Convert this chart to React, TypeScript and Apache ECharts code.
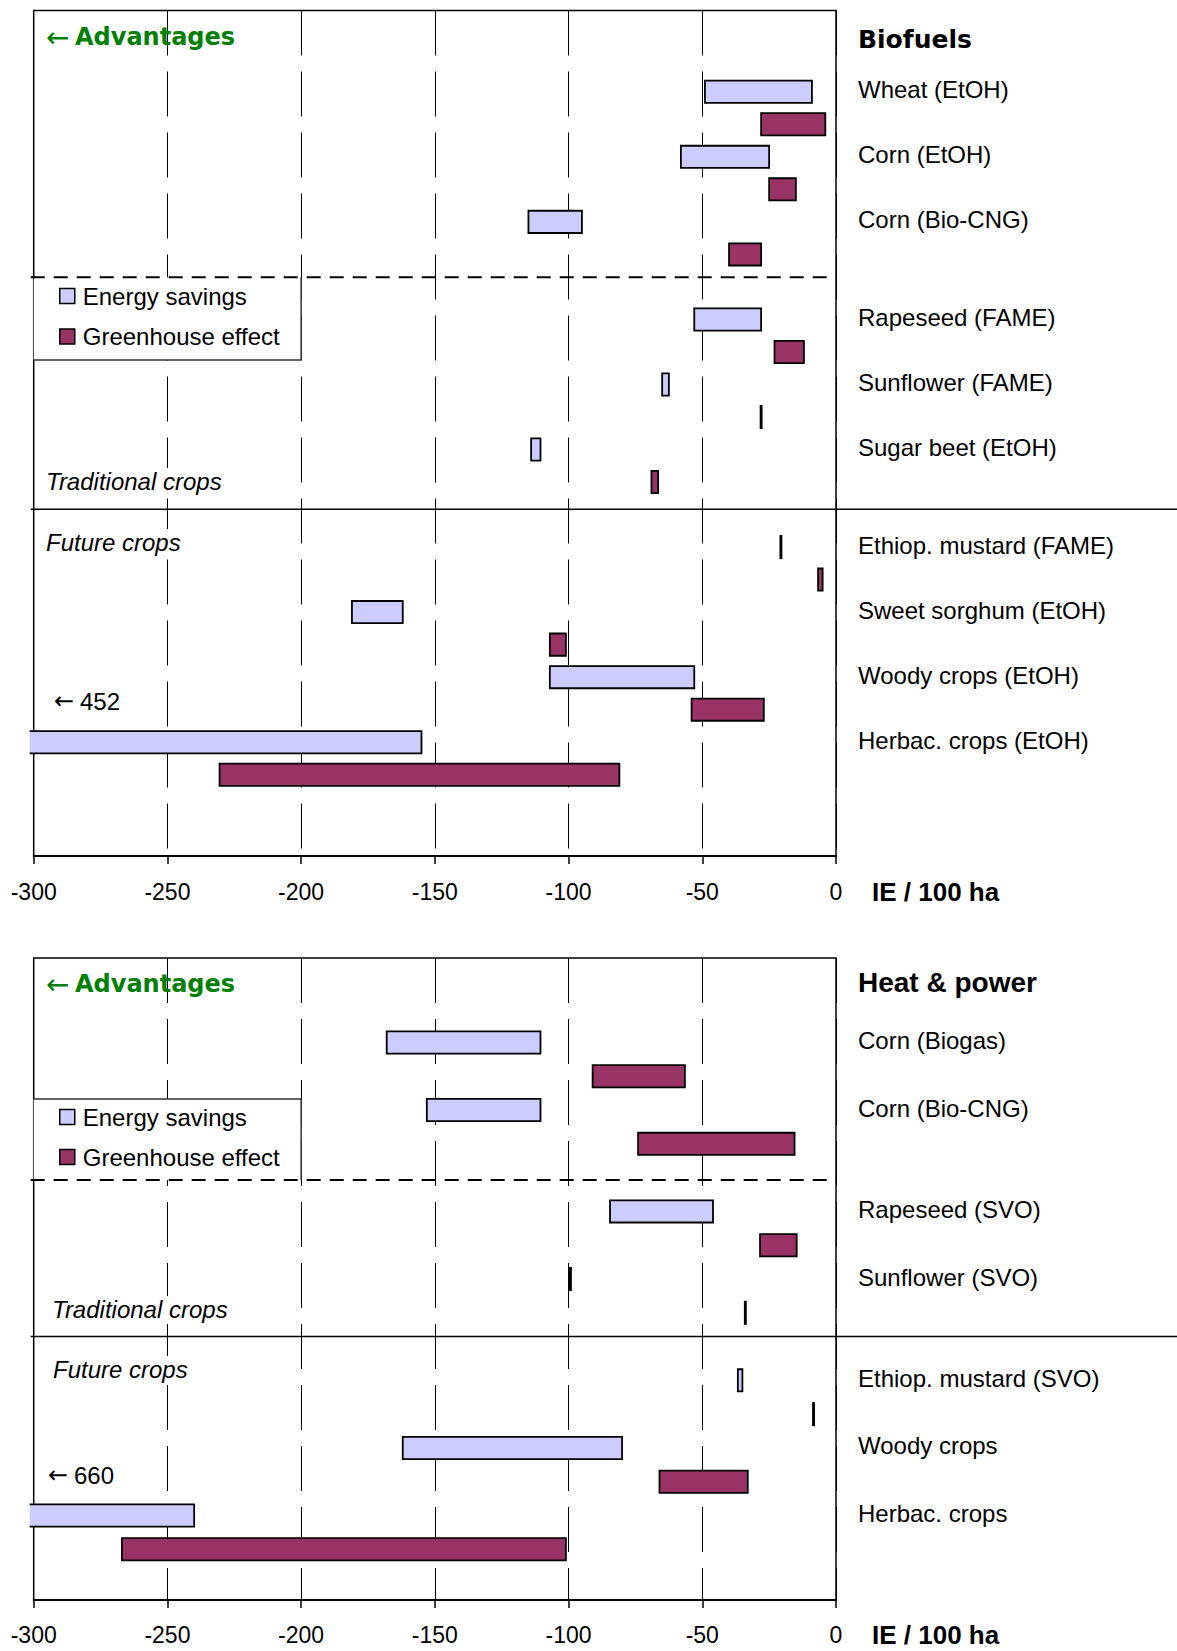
import React, { useEffect, useRef } from 'react';
import * as echarts from 'echarts';

// ---- Biofuels panel -------------------------------------------------------
const biofuelCategories = [
  'Wheat (EtOH)',
  'Corn (EtOH)',
  'Corn (Bio-CNG)',
  'Rapeseed (FAME)',
  'Sunflower (FAME)',
  'Sugar beet (EtOH)',
  'Ethiop. mustard (FAME)',
  'Sweet sorghum (EtOH)',
  'Woody crops (EtOH)',
  'Herbac. crops (EtOH)',
];
// row slot of each crop's energy bar; its greenhouse bar sits in the next slot
const biofuelSlots = [2, 4, 6, 9, 11, 13, 16, 18, 20, 22];
// [from, to] in IE / 100 ha
const biofuelEnergy: [number, number][] = [
  [-49, -9],
  [-58, -25],
  [-115, -95],
  [-53, -28],
  [-65, -62.5],
  [-114, -110.5],
  [-20.8, -20.4],
  [-181, -162],
  [-107, -53],
  [-452, -155],
];
const biofuelGreenhouse: [number, number][] = [
  [-28, -4],
  [-25, -15],
  [-40, -28],
  [-23, -12],
  [-28.2, -27.8],
  [-69, -66.5],
  [-6.7, -5],
  [-107, -101],
  [-54, -27],
  [-230.5, -81],
];

// ---- Heat & power panel ---------------------------------------------------
const heatCategories = [
  'Corn (Biogas)',
  'Corn (Bio-CNG)',
  'Rapeseed (SVO)',
  'Sunflower (SVO)',
  'Ethiop. mustard (SVO)',
  'Woody crops',
  'Herbac. crops',
];
const heatSlots = [2, 4, 7, 9, 12, 14, 16];
const heatEnergy: [number, number][] = [
  [-168, -110.5],
  [-153, -110.5],
  [-84.5, -46],
  [-99.5, -99.1],
  [-36.7, -35],
  [-162, -80],
  [-660, -240],
];
const heatGreenhouse: [number, number][] = [
  [-91, -56.5],
  [-74, -15.5],
  [-28.4, -14.7],
  [-34.1, -33.7],
  [-8.6, -8.2],
  [-66, -33],
  [-267, -101],
];

const seriesNames = ['Energy savings', 'Greenhouse effect'];
const panelTitles = ['Biofuels', 'Heat & power'];
const groupLabels = ['Traditional crops', 'Future crops'];
const axisTitle = 'IE / 100 ha';
const advantageText = 'Advantages';

const X_MIN = -300;
const X_MAX = 0;
const X_STEP = 50;

// ---- styling / layout -----------------------------------------------------
const SANS = '"Liberation Sans", Arial, sans-serif';
const WIDE = '"DejaVu Sans", sans-serif';
const ENERGY_FILL = '#CCCCFF';
const GREENHOUSE_FILL = '#993366';
const ADV_GREEN = '#008000';

const PAGE_W = 1177;
const PAGE_H = 1651;
const PLOT_LEFT = 33.7;
const PLOT_WIDTH = 802.3;

const layouts = [
  {
    top: 10.5,
    height: 845.5,
    slots: 26,
    barRatio: 0.683,
    dashedSlot: 8.2,
    solidSlot: 15.34,
    legendBox: [8.2, 10.75],
    legendBoxEdges: ['right', 'bottom'],
    legendTop: 284,
    legendGap: 16.5,
    titleY: 39,
    titleFont: `bold 25px ${WIDE}`,
    advY: 37,
    tradPos: [46, 481],
    futurePos: [46, 542],
    offscalePos: [54, 701],
    labelMargin: 24,
    namePad: 23,
  },
  {
    top: 958,
    height: 642,
    slots: 19,
    barRatio: 0.657,
    dashedSlot: 6.57,
    solidSlot: 11.2,
    legendBox: [4.17, 6.57],
    legendBoxEdges: ['top', 'right'],
    legendTop: 1105,
    legendGap: 16,
    titleY: 982,
    titleFont: `bold 28px ${SANS}`,
    advY: 984,
    tradPos: [52, 1309],
    futurePos: [53, 1369],
    offscalePos: [48, 1475],
    labelMargin: 23,
    namePad: 22,
  },
];

const panels = [
  {
    categories: biofuelCategories,
    slots: biofuelSlots,
    energy: biofuelEnergy,
    greenhouse: biofuelGreenhouse,
  },
  {
    categories: heatCategories,
    slots: heatSlots,
    energy: heatEnergy,
    greenhouse: heatGreenhouse,
  },
];

const xPix = (v: number) => PLOT_LEFT + ((v - X_MIN) / (X_MAX - X_MIN)) * PLOT_WIDTH;
const yPix = (l: (typeof layouts)[number], slot: number) => l.top + (slot * l.height) / l.slots;

// floating bar from [from, to]; a bar running past the left edge is cut open there
function barRenderer(ratio: number) {
  return (params: any, api: any) => {
    const from = api.value(0) as number;
    const to = api.value(1) as number;
    const y = api.value(2) as number;
    const p0 = api.coord([Math.max(from, X_MIN), y]);
    const p1 = api.coord([to, y]);
    const h = Math.abs(api.size([0, 1])[1]) * ratio;
    const top = p1[1] - h / 2;
    const fill = api.visual('color');
    const stroke = { stroke: '#000', lineWidth: 1.8 };
    if (from >= X_MIN) {
      return {
        type: 'rect',
        shape: { x: p0[0], y: top, width: p1[0] - p0[0], height: h },
        style: { fill, ...stroke },
      };
    }
    const cutX = params.coordSys.x - 4;
    return {
      type: 'group',
      children: [
        { type: 'rect', shape: { x: cutX, y: top, width: p1[0] - cutX, height: h }, style: { fill } },
        {
          type: 'polyline',
          shape: { points: [[cutX, top], [p1[0], top], [p1[0], top + h], [cutX, top + h]] },
          style: { fill: 'none', ...stroke },
        },
      ],
    };
  };
}

function textEl(x: number, y: number, text: string, font: string, fill = '#000', extra: any = {}) {
  return {
    type: 'text',
    z: 6,
    x,
    y,
    style: { text, fill, font, textAlign: 'left', textVerticalAlign: 'middle', ...extra },
  };
}

function buildOption() {
  const grid: any[] = [];
  const xAxis: any[] = [];
  const yAxis: any[] = [];
  const series: any[] = [];
  const legend: any[] = [];
  const graphics: any[] = [];

  layouts.forEach((l, i) => {
    const panel = panels[i];
    grid.push({
      left: PLOT_LEFT,
      top: l.top,
      width: PLOT_WIDTH,
      height: l.height,
      show: true,
      borderColor: '#000',
      borderWidth: 1.5,
      backgroundColor: 'transparent',
    });
    xAxis.push({
      gridIndex: i,
      type: 'value',
      min: X_MIN,
      max: X_MAX,
      interval: X_STEP,
      axisLine: { show: true, onZero: false, lineStyle: { color: '#000', width: 2 } },
      axisTick: { show: true, length: 8, lineStyle: { color: '#000', width: 1.5 } },
      axisLabel: { fontFamily: SANS, fontSize: 23, color: '#000', margin: l.labelMargin },
      splitLine: { show: true, lineStyle: { color: '#000', width: 1, type: [45, 16] } },
      name: axisTitle,
      nameLocation: 'end',
      nameGap: 36,
      nameTextStyle: {
        fontFamily: SANS,
        fontSize: 26,
        fontWeight: 'bold',
        color: '#000',
        align: 'left',
        verticalAlign: 'top',
        padding: [l.namePad, 0, 0, 0],
      },
    });
    yAxis.push({
      gridIndex: i,
      type: 'value',
      min: 0,
      max: l.slots,
      inverse: true,
      show: false,
      axisLine: { show: false },
      splitLine: { show: false },
    });

    series.push({
      type: 'custom',
      name: seriesNames[0],
      xAxisIndex: i,
      yAxisIndex: i,
      itemStyle: { color: ENERGY_FILL },
      encode: { x: [0, 1], y: 2 },
      data: panel.energy.map((r, k) => [r[0], r[1], panel.slots[k] + 0.5]),
      renderItem: barRenderer(l.barRatio),
      clip: false,
      silent: true,
      z: 2,
    });
    series.push({
      type: 'custom',
      name: seriesNames[1],
      xAxisIndex: i,
      yAxisIndex: i,
      itemStyle: { color: GREENHOUSE_FILL },
      encode: { x: [0, 1], y: 2 },
      data: panel.greenhouse.map((r, k) => [r[0], r[1], panel.slots[k] + 1.5]),
      renderItem: barRenderer(l.barRatio),
      clip: false,
      silent: true,
      z: 2,
    });

    // crop names to the right of the plot, level with the energy bar
    series.push({
      type: 'custom',
      name: 'crops',
      xAxisIndex: i,
      yAxisIndex: i,
      encode: { x: 0, y: 1 },
      data: panel.slots.map((s) => [X_MAX, s + 0.5]),
      renderItem: (params: any, api: any) => {
        const p = api.coord([api.value(0), api.value(1)]);
        return {
          type: 'text',
          x: p[0] + 22,
          y: p[1] - 2,
          style: {
            text: panel.categories[params.dataIndex],
            fill: '#000',
            font: `24px ${SANS}`,
            textAlign: 'left',
            textVerticalAlign: 'middle',
          },
        };
      },
      clip: false,
      silent: true,
      z: 4,
    });

    // group separators: dashed inside the plot, solid running to the page edge
    series.push({
      type: 'custom',
      name: 'separators',
      xAxisIndex: i,
      yAxisIndex: i,
      encode: { x: 0, y: 1 },
      data: [
        [X_MIN, l.dashedSlot, 0],
        [X_MIN, l.solidSlot, 1],
      ],
      renderItem: (params: any, api: any) => {
        const p = api.coord([api.value(0), api.value(1)]);
        const solid = api.value(2) === 1;
        const x2 = solid ? PAGE_W : api.coord([X_MAX, api.value(1)])[0];
        return {
          type: 'line',
          shape: { x1: p[0] - 3, y1: p[1], x2, y2: p[1] },
          style: solid
            ? { stroke: '#000', lineWidth: 1.5 }
            : { stroke: '#000', lineWidth: 2, lineDash: [14, 9] },
        };
      },
      clip: false,
      silent: true,
      z: 5,
    });

    legend.push({
      orient: 'vertical',
      left: 59,
      top: l.legendTop,
      padding: 0,
      itemWidth: 15,
      itemHeight: 15,
      itemGap: l.legendGap,
      icon: 'rect',
      itemStyle: { borderColor: '#000', borderWidth: 1.5 },
      textStyle: { fontFamily: SANS, fontSize: 24, color: '#000', padding: [0, 0, 0, 3] },
      data: seriesNames,
      selectedMode: false,
      z: 6,
    });

    // legend frame
    const bx0 = PLOT_LEFT;
    const bx1 = xPix(-200);
    const by0 = yPix(l, l.legendBox[0]);
    const by1 = yPix(l, l.legendBox[1]);
    graphics.push({
      type: 'rect',
      z: 3,
      shape: { x: bx0, y: by0, width: bx1 - bx0, height: by1 - by0 },
      style: { fill: '#fff', stroke: 'none' },
    });
    const edgeLines: Record<string, number[]> = {
      top: [bx0, by0, bx1, by0],
      right: [bx1, by0, bx1, by1],
      bottom: [bx0, by1, bx1, by1],
    };
    l.legendBoxEdges.forEach((edge) => {
      const [x1, y1, x2, y2] = edgeLines[edge];
      graphics.push({
        type: 'line',
        z: 3,
        shape: { x1, y1, x2, y2 },
        style: { stroke: '#333', lineWidth: 1.5 },
      });
    });

    // panel title
    graphics.push(textEl(xPix(X_MAX) + 22, l.titleY, panelTitles[i], l.titleFont));

    // "←Advantages"
    graphics.push(textEl(46, l.advY, '\u2190', `28px ${WIDE}`, ADV_GREEN));
    graphics.push(textEl(75, l.advY, advantageText, `bold 24px ${WIDE}`, ADV_GREEN));

    // crop group captions, on a white patch over the grid lines
    [l.tradPos, l.futurePos].forEach((pos, k) => {
      graphics.push(
        textEl(pos[0], pos[1], groupLabels[k], `italic 24px ${SANS}`, '#000', {
          backgroundColor: '#fff',
          padding: [1, 2, 1, 0],
        })
      );
    });

    // value of the energy bar that runs off the scale
    const offscale = panel.energy.find((r) => r[0] < X_MIN);
    if (offscale) {
      graphics.push(textEl(l.offscalePos[0], l.offscalePos[1], '\u2190', `24px ${WIDE}`));
      graphics.push(textEl(l.offscalePos[0] + 26, l.offscalePos[1], `${Math.abs(offscale[0])}`, `24px ${SANS}`));
    }
  });

  return {
    animation: false,
    backgroundColor: '#fff',
    grid,
    xAxis,
    yAxis,
    legend,
    series,
    graphic: { elements: graphics },
  };
}

export default function App() {
  const ref = useRef<HTMLDivElement>(null);
  useEffect(() => {
    if (!ref.current) return;
    const chart = echarts.init(ref.current, undefined, { renderer: 'svg' });
    chart.setOption(buildOption() as any);
    return () => chart.dispose();
  }, []);
  return (
    <div
      ref={ref}
      style={{ position: 'absolute', left: 0, top: 0, width: PAGE_W, height: PAGE_H, background: '#fff' }}
    />
  );
}
